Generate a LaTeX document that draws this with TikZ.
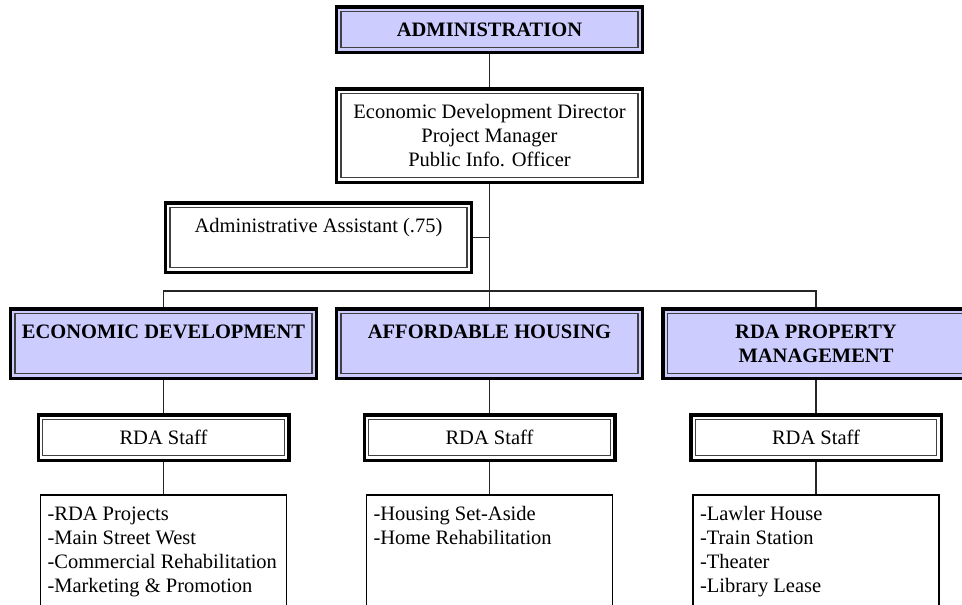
\documentclass[tikz,border=0pt]{standalone}
\usepackage{fontspec}
\setmainfont{Liberation Serif}
\definecolor{headblue}{HTML}{CCCCFF}
\newcommand{\rowstrut}{\rule[-4.7pt]{0pt}{24pt}}
\newcommand{\dutylist}[1]{\parbox[t][112pt][t]{232pt}{\raggedright\strut#1}}
\tikzset{
  dblbox/.style={draw=black, line width=3.5pt, fill=white, inner sep=0pt, align=center,
    font=\fontsize{20.5}{24}\selectfont,
    path picture={\draw[black!75, line width=1.1pt]
      ([shift={(4.5pt,4.5pt)}]path picture bounding box.south west) rectangle
      ([shift={(-4.5pt,-4.5pt)}]path picture bounding box.north east);}},
  headbox/.style={dblbox, fill=headblue, font=\fontsize{20.5}{24}\selectfont\bfseries},
  duties/.style={draw=black, line width=1.6pt, fill=white, anchor=north, inner xsep=7pt,
    inner ysep=9pt, minimum width=246pt, font=\fontsize{20.5}{24}\selectfont},
  link/.style={draw=black!85, line width=1.2pt}
}
\begin{document}
\begin{tikzpicture}[x=1pt,y=-1pt]
\useasboundingbox (0,0) rectangle (962,605);
\clip (0,0) rectangle (962,605);
\node[headbox, minimum width=306, minimum height=45.5] (admin) at (489.5,29.5) {\rowstrut ADMINISTRATION};
\node[dblbox, minimum width=306, minimum height=93.5] (director) at (489.5,135.5) {\rowstrut Economic Development Director\\\rowstrut Project Manager\\\rowstrut Public Info. Officer};
\node[dblbox, minimum width=306, minimum height=69.5] (assistant) at (318.5,237.5) {\rowstrut Administrative Assistant (.75)\\\rowstrut};
\coordinate (bus) at (489.5,291);
\node[headbox, minimum width=306, minimum height=69.5] (econ) at (163.5,343.5) {\rowstrut ECONOMIC DEVELOPMENT\\\rowstrut};
\node[headbox, minimum width=306, minimum height=69.5] (housing) at (489.5,343.5) {\rowstrut AFFORDABLE HOUSING\\\rowstrut};
\node[headbox, minimum width=306, minimum height=69.5] (property) at (816,343.5) {\rowstrut RDA PROPERTY\\\rowstrut MANAGEMENT};
\node[dblbox, minimum width=250.5, minimum height=45.5] (econ-staff) at (163.5,437.5) {\rowstrut RDA Staff};
\node[dblbox, minimum width=250.5, minimum height=45.5] (housing-staff) at (489.5,437.5) {\rowstrut RDA Staff};
\node[dblbox, minimum width=250.5, minimum height=45.5] (property-staff) at (816,437.5) {\rowstrut RDA Staff};
\node[duties] (econ-list) at (163.5,494) {\dutylist{-RDA Projects\\-Main Street West\\-Commercial Rehabilitation\\-Marketing \& Promotion}};
\node[duties] (housing-list) at (489.5,494) {\dutylist{-Housing Set-Aside\\-Home Rehabilitation}};
\node[duties] (property-list) at (816,494) {\dutylist{-Lawler House\\-Train Station\\-Theater\\-Library Lease}};
\draw[link] (admin) -- (director);
\draw[link] (director) -- (bus);
\draw[link] (assistant.east) -- (assistant.east -| bus);
\draw[link] (econ.north) |- (bus) -| (property.north);
\draw[link] (bus) -- (housing.north);
\draw[link] (econ) -- (econ-staff);
\draw[link] (econ-staff) -- (econ-list);
\draw[link] (housing) -- (housing-staff);
\draw[link] (housing-staff) -- (housing-list);
\draw[link] (property) -- (property-staff);
\draw[link] (property-staff) -- (property-list);
\end{tikzpicture}
\end{document}
